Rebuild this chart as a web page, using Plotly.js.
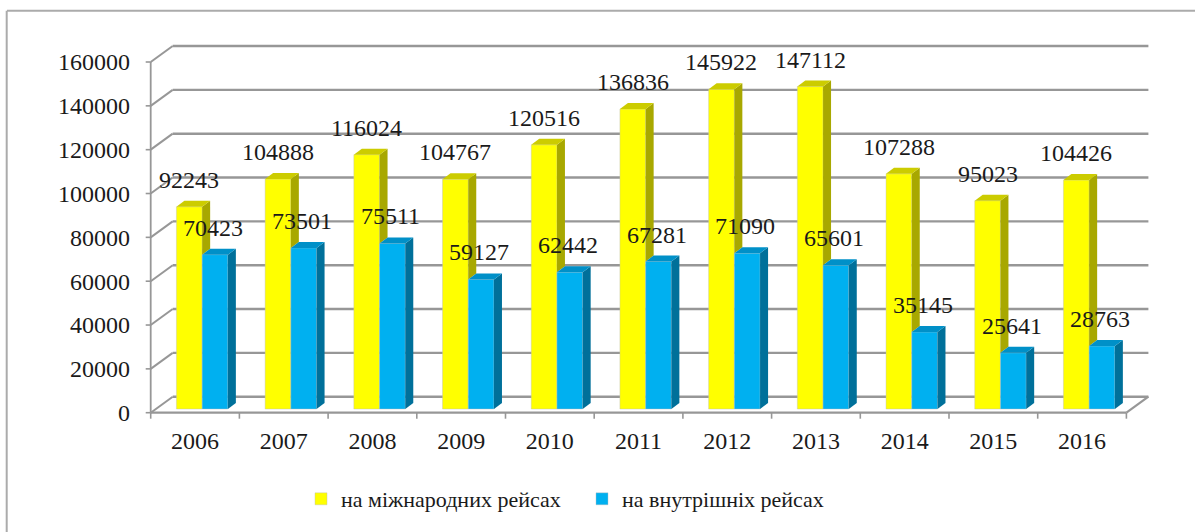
<!DOCTYPE html>
<html>
<head>
<meta charset="utf-8">
<script src="https://cdn.plot.ly/plotly-3.0.1.min.js"></script>
<style>
  html, body { margin: 0; padding: 0; background: #ffffff; }
  #chart { width: 1195px; height: 532px; }
</style>
</head>
<body>
<div id="chart"></div>
<script>
// ---- data ----
const years = ['2006', '2007', '2008', '2009', '2010', '2011', '2012', '2013', '2014', '2015', '2016'];
const international = [92243, 104888, 116024, 104767, 120516, 136836, 145922, 147112, 107288, 95023, 104426];
const domestic = [70423, 73501, 75511, 59127, 62442, 67281, 71090, 65601, 35145, 25641, 28763];
const yTicks = [0, 20000, 40000, 60000, 80000, 100000, 120000, 140000, 160000];
const seriesNames = ['на міжнародних рейсах', 'на внутрішніх рейсах'];

// ---- geometry (pixels) ----
const FIG_W = 1195, FIG_H = 532;
const L = 131, R = 1160, T = 40, B = 420;
const PW = R - L, PH = B - T;
const CAT0 = 195.05, CW = 88.7;          // pixel centre of first category, category width
const Y0 = 409, K = 350.7 / 160000;      // pixel of value 0 for bars, px per unit
const xd = p => (p - CAT0) / CW;
const FRONT_DY = -3.7 / K;               // front axis sits slightly below bar base
const WALL_DX = 22 / CW, WALL_DY = 16 / K;
const BAR_DX = 8 / CW, BAR_DY = 6 / K;
const BW = 0.29, OFF_Y = -0.21, OFF_B = 0.08;

const FONT = 'Liberation Serif, Times New Roman, serif';
const TXT = '#1a1a1a';
const GRID = '#979797';
const YEL = '#ffff00', YEL_TOP = '#cccc00', YEL_SIDE = '#a8a800';
const BLU = '#00b0f0', BLU_TOP = '#0090c8', BLU_SIDE = '#00709a';

const idx = years.map((_, i) => i);
const n = years.length;
const xMin = -0.5, xMax = n - 0.5;

const shapes = [];
const line = (x0, y0, x1, y1, color, width, layer) => shapes.push({
  type: 'line', xref: 'x', yref: 'y', x0, y0, x1, y1, layer: layer || 'below',
  line: { color, width }
});

// back wall gridlines + left wall diagonals + ticks
yTicks.forEach(v => {
  const yf = v + FRONT_DY;
  line(xMin + WALL_DX, yf + WALL_DY, xMax + WALL_DX, yf + WALL_DY, GRID, 2.4);
  line(xMin, yf, xMin + WALL_DX, yf + WALL_DY, GRID, 2);
  line(xMin - 5 / CW, yf, xMin, yf, GRID, 1.6);
});
// front-left vertical edge
line(xMin, FRONT_DY, xMin, yTicks[yTicks.length - 1] + FRONT_DY, GRID, 1.8);
// floor front edge and right edge
line(xMin, FRONT_DY, xMax, FRONT_DY, GRID, 2.2);
line(xMax, FRONT_DY, xMax + WALL_DX, FRONT_DY + WALL_DY, GRID, 2.2);
// category boundary ticks
for (let i = 0; i <= n; i++) {
  line(i - 0.5, FRONT_DY, i - 0.5, FRONT_DY - 6 / K, GRID, 1.6);
}

// 3D faces of bars
const poly = (pts, color) => shapes.push({
  type: 'path', xref: 'x', yref: 'y', layer: 'above',
  path: 'M' + pts.map(p => p[0] + ',' + p[1]).join('L') + 'Z',
  fillcolor: color, line: { width: 0 }
});
idx.forEach(i => {
  const yv = international[i], bv = domestic[i];
  const xl = i + OFF_Y, xr = xl + BW;
  poly([[xr, Math.min(bv, yv)], [xr, yv], [xr + BAR_DX, yv + BAR_DY], [xr + BAR_DX, Math.min(bv, yv) + BAR_DY]], YEL_SIDE);
  poly([[xl, yv], [xr, yv], [xr + BAR_DX, yv + BAR_DY], [xl + BAR_DX, yv + BAR_DY]], YEL_TOP);
  const bl = i + OFF_B, br = bl + BW;
  poly([[br, 0], [br, bv], [br + BAR_DX, bv + BAR_DY], [br + BAR_DX, BAR_DY]], BLU_SIDE);
  poly([[bl, bv], [br, bv], [br + BAR_DX, bv + BAR_DY], [bl + BAR_DX, bv + BAR_DY]], BLU_TOP);
});

// outer frame (top and left edges)
const px2paperX = p => (p - L) / PW;
const px2paperY = p => (B - p) / PH;
shapes.push({ type: 'line', xref: 'paper', yref: 'paper',
  x0: px2paperX(7), y0: px2paperY(10.7), x1: px2paperX(FIG_W), y1: px2paperY(10.7),
  line: { color: '#ababab', width: 2 }, layer: 'below' });
shapes.push({ type: 'line', xref: 'paper', yref: 'paper',
  x0: px2paperX(6.7), y0: px2paperY(10.7), x1: px2paperX(6.7), y1: px2paperY(FIG_H),
  line: { color: '#ababab', width: 2 }, layer: 'below' });

// data labels
const annotations = [];
idx.forEach(i => {
  annotations.push({ x: i + OFF_Y + BW / 2, y: international[i], xref: 'x', yref: 'y',
    text: String(international[i]), showarrow: false, yanchor: 'bottom', yshift: 12,
    font: { family: FONT, size: 24, color: TXT } });
  annotations.push({ x: i + OFF_B + BW / 2 - 0.02, y: domestic[i], xref: 'x', yref: 'y',
    text: String(domestic[i]), showarrow: false, yanchor: 'bottom', yshift: 12,
    font: { family: FONT, size: 24, color: TXT } });
});

const traces = [
  { type: 'bar', name: seriesNames[0], x: idx, y: international, width: BW, offset: OFF_Y,
    marker: { color: YEL, line: { color: 'rgba(190,190,190,0.7)', width: 0.6 } }, hoverinfo: 'y' },
  { type: 'bar', name: seriesNames[1], x: idx, y: domestic, width: BW, offset: OFF_B,
    marker: { color: BLU, line: { color: 'rgba(190,190,190,0.7)', width: 0.6 } }, hoverinfo: 'y' }
];

const layout = {
  width: FIG_W, height: FIG_H,
  margin: { l: L, r: FIG_W - R, t: T, b: FIG_H - B, pad: 0 },
  paper_bgcolor: '#ffffff', plot_bgcolor: 'rgba(0,0,0,0)',
  barmode: 'overlay',
  font: { family: FONT, size: 24, color: TXT },
  xaxis: {
    range: [xd(L), xd(R)], showgrid: false, zeroline: false, showline: false,
    tickvals: idx, ticktext: years, ticks: '', ticklabelstandoff: 4,
    tickfont: { family: FONT, size: 24, color: TXT }, fixedrange: true
  },
  yaxis: {
    range: [-(B - Y0) / K, (Y0 - T) / K], showgrid: false, zeroline: false, showline: false,
    tickvals: yTicks.map(v => v + FRONT_DY), ticktext: yTicks.map(String), ticks: '',
    tickfont: { family: FONT, size: 24, color: TXT }, fixedrange: true
  },
  showlegend: true,
  legend: {
    orientation: 'h', x: px2paperX(301), xanchor: 'left', y: px2paperY(499), yanchor: 'middle',
    entrywidth: 236, entrywidthmode: 'pixels',
    font: { family: FONT, size: 22, color: TXT }, bgcolor: 'rgba(0,0,0,0)', traceorder: 'normal'
  },
  shapes, annotations
};

Plotly.newPlot('chart', traces, layout, { displayModeBar: false, staticPlot: true });
</script>
</body>
</html>
